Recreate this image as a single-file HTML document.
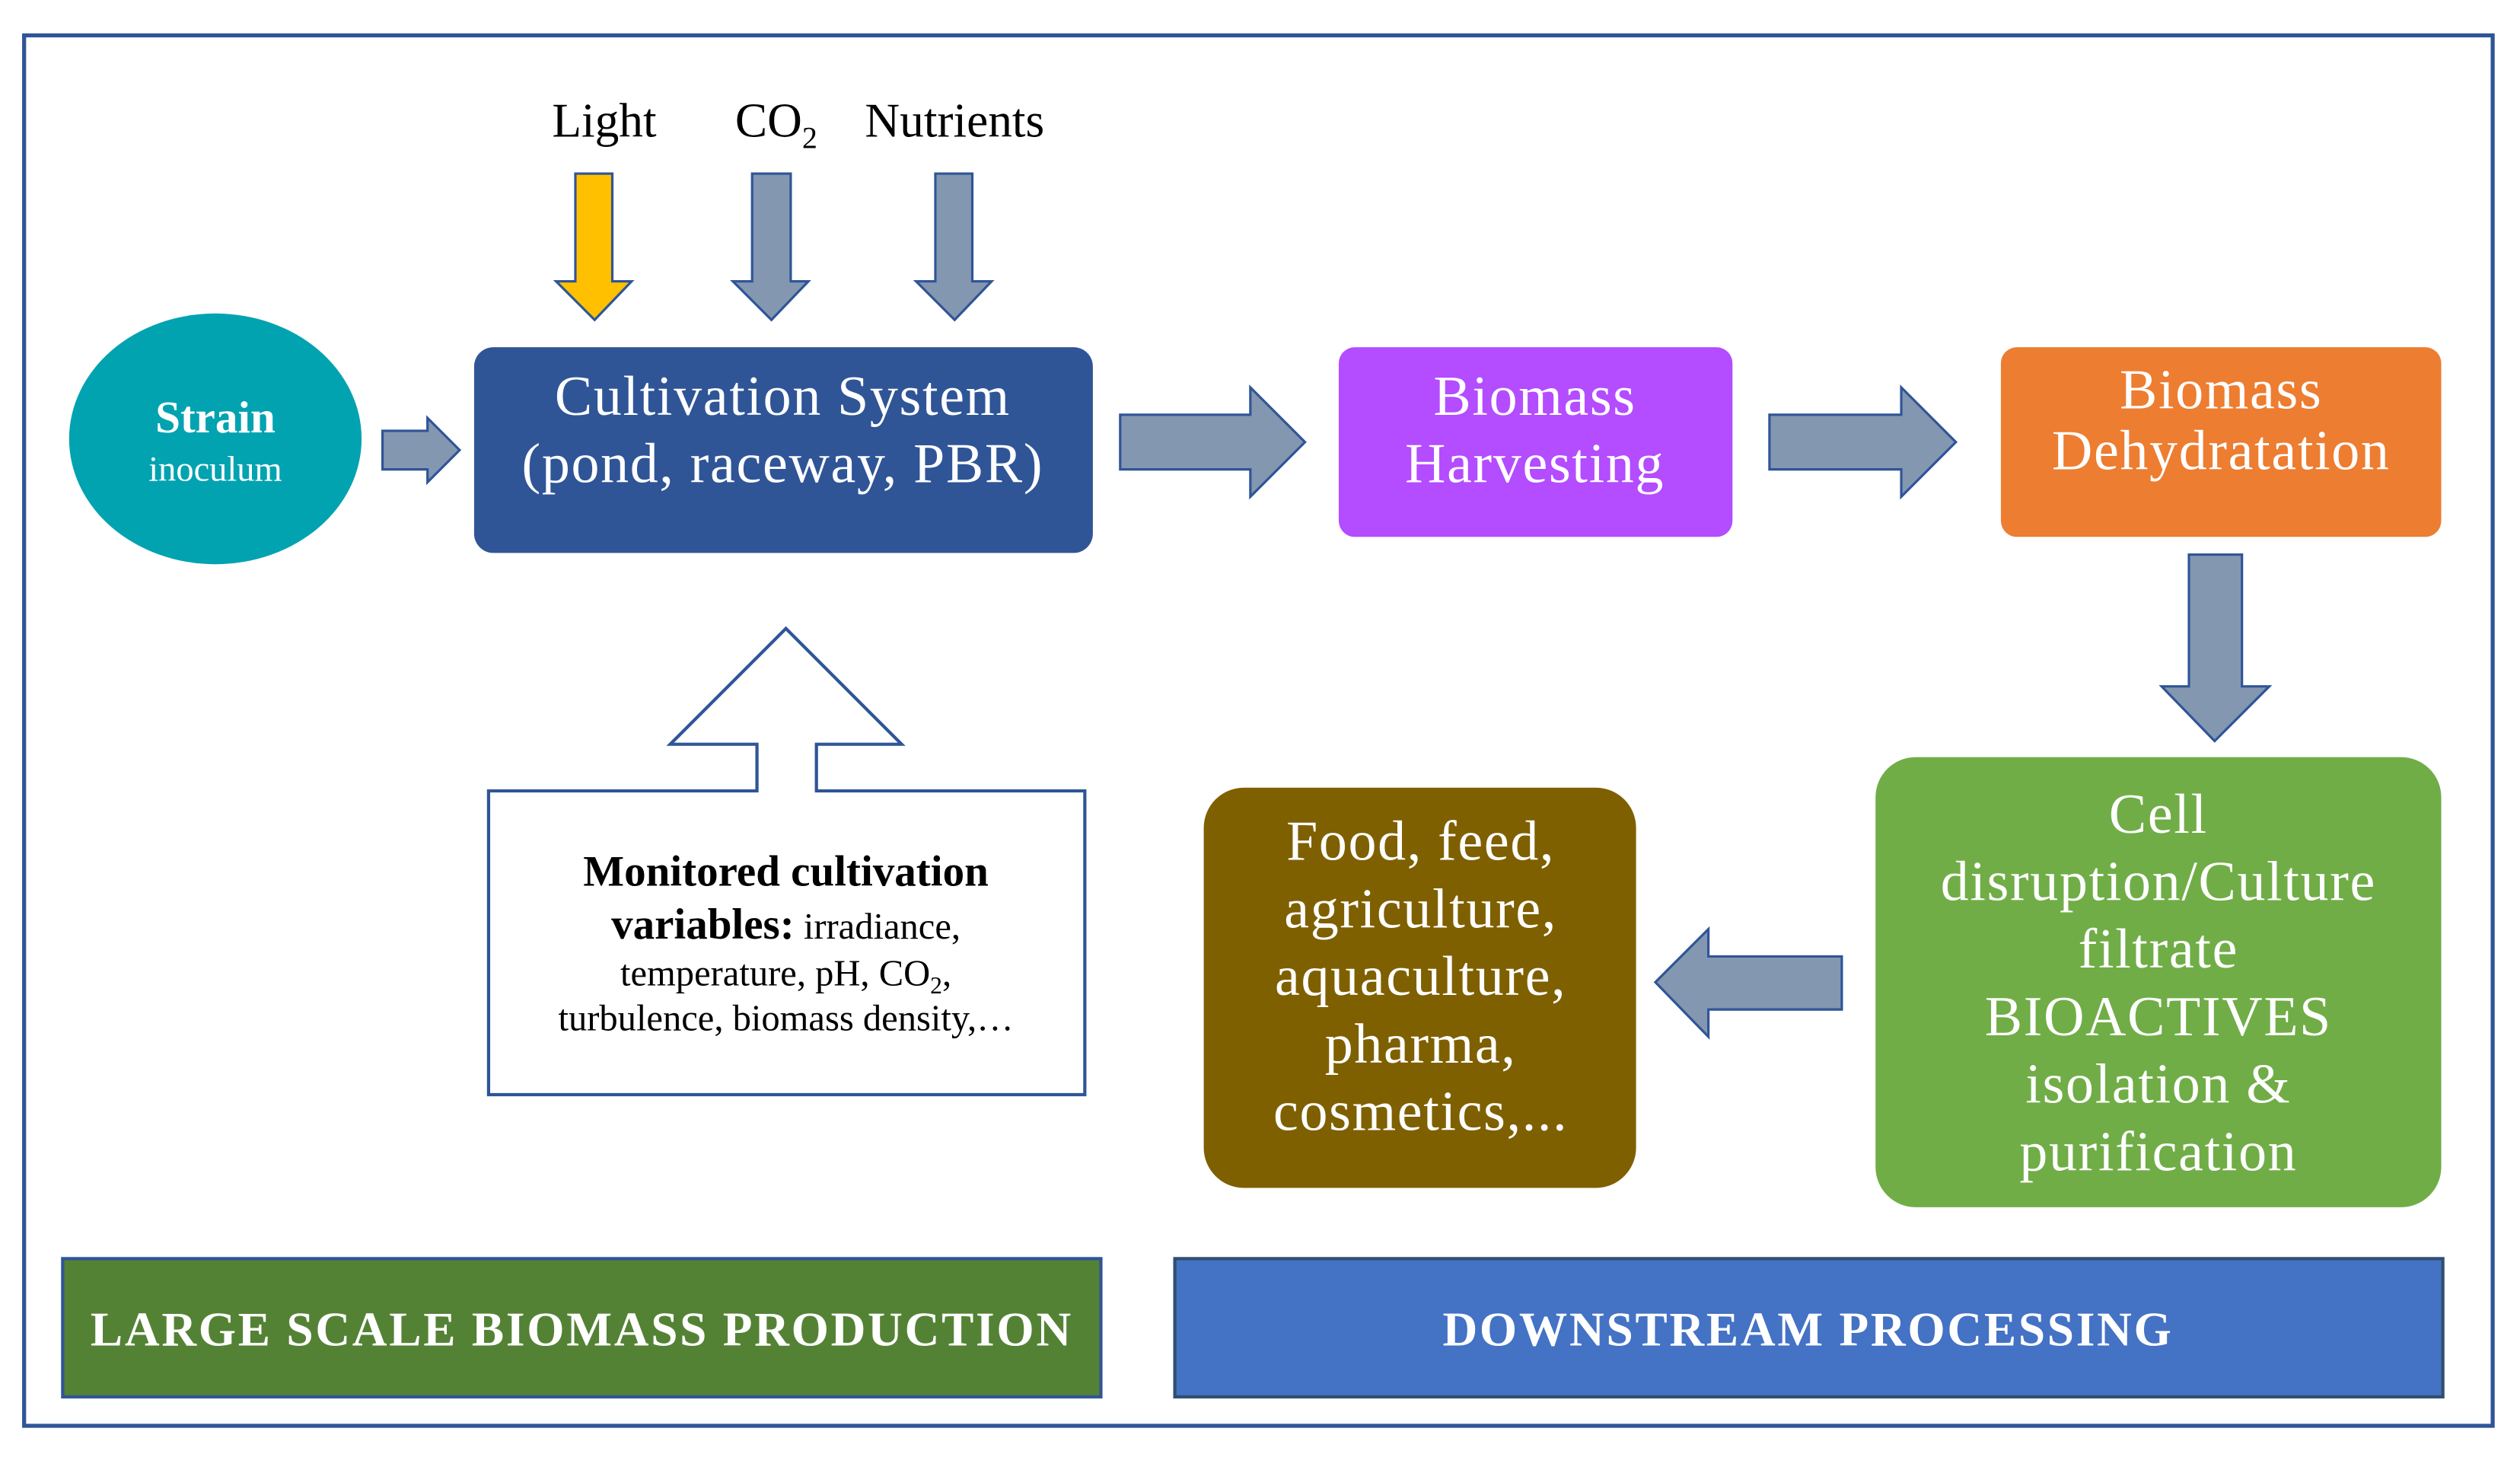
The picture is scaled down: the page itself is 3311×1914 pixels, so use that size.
<!DOCTYPE html>
<html><head><meta charset="utf-8"><style>html,body{margin:0;padding:0;background:#fff}svg{display:block}</style></head>
<body>
<svg width="3311" height="1914" viewBox="0 0 1568 906.4" xmlns="http://www.w3.org/2000/svg" font-family="'Liberation Serif', serif">
<rect x="0" y="0" width="1568" height="906.4" fill="#fff"/>
<rect x="15" y="22" width="1536" height="865" fill="none" stroke="#2F5597" stroke-width="2.5"/>

<ellipse cx="134" cy="273" rx="91" ry="78" fill="#02A3B1"/>
<text x="134" y="269" font-size="28" font-weight="bold" fill="#fff" text-anchor="middle">Strain</text>
<text x="134" y="299" font-size="22" fill="#fff" text-anchor="middle">inoculum</text>

<g fill="#8497B0" stroke="#2F5597" stroke-width="1.5">
<path d="M238,268 L266,268 L266,260 L286,280 L266,300 L266,292 L238,292 Z"/>
<path d="M468,108 L492,108 L492,175 L503,175 L480,199 L456,175 L468,175 Z"/>
<path d="M582,108 L605,108 L605,175 L617,175 L594,199 L570,175 L582,175 Z"/>
<path d="M697,258 L778,258 L778,241 L812,275 L778,309 L778,292 L697,292 Z"/>
<path d="M1101,258 L1183,258 L1183,241 L1217,275 L1183,309 L1183,292 L1101,292 Z"/>
<path d="M1362,345 L1395,345 L1395,427 L1412,427 L1378,461 L1345,427 L1362,427 Z"/>
<path d="M1146,595 L1063,595 L1063,578 L1030,611 L1063,645 L1063,628 L1146,628 Z"/>
</g>
<path d="M358,108 L381,108 L381,175 L393,175 L370,199 L346,175 L358,175 Z" fill="#FFC000" stroke="#2F5597" stroke-width="1.5"/>

<text x="376" y="85" font-size="30" text-anchor="middle">Light</text>
<text x="483" y="85" font-size="30" text-anchor="middle">CO<tspan font-size="19" dy="7">2</tspan></text>
<text x="594" y="85" font-size="30" text-anchor="middle">Nutrients</text>

<rect x="295" y="216" width="385" height="128" rx="12" fill="#2F5597"/>
<g font-size="35" fill="#fff" text-anchor="middle" letter-spacing="0.8">
<text x="487" y="258">Cultivation System</text>
<text x="487" y="300">(pond, raceway, PBR)</text>
</g>

<rect x="833" y="216" width="245" height="118" rx="10" fill="#B44CFF"/>
<g font-size="35" fill="#fff" text-anchor="middle" letter-spacing="0.8">
<text x="955" y="258">Biomass</text>
<text x="955" y="300">Harvesting</text>
</g>

<rect x="1245" y="216" width="274" height="118" rx="10" fill="#ED7D31"/>
<g font-size="35" fill="#fff" text-anchor="middle" letter-spacing="0.8">
<text x="1382" y="254">Biomass</text>
<text x="1382" y="292">Dehydratation</text>
</g>

<rect x="1167" y="471" width="352" height="280" rx="25" fill="#70AD47"/>
<g font-size="35" fill="#fff" text-anchor="middle" letter-spacing="0.8">
<text x="1343" y="518">Cell</text>
<text x="1343" y="560">disruption/Culture</text>
<text x="1343" y="602">filtrate</text>
<text x="1343" y="644">BIOACTIVES</text>
<text x="1343" y="686">isolation &amp;</text>
<text x="1343" y="728">purification</text>
</g>

<rect x="749" y="490" width="269" height="249" rx="25" fill="#7F6000"/>
<g font-size="35" fill="#fff" text-anchor="middle" letter-spacing="0.8">
<text x="884" y="535">Food, feed,</text>
<text x="884" y="577">agriculture,</text>
<text x="884" y="619">aquaculture,</text>
<text x="884" y="661">pharma,</text>
<text x="884" y="703">cosmetics,...</text>
</g>

<path d="M304,492 L471,492 L471,463 L417,463 L489,391 L561,463 L508,463 L508,492 L675,492 L675,681 L304,681 Z" fill="#fff" stroke="#2F5597" stroke-width="2"/>
<text x="489" y="551" font-size="27" font-weight="bold" text-anchor="middle">Monitored cultivation</text>
<text x="489" y="584" text-anchor="middle"><tspan font-size="27" font-weight="bold">variables:</tspan><tspan font-size="23"> irradiance,</tspan></text>
<text x="489" y="613" font-size="23" text-anchor="middle">temperature, pH, CO<tspan font-size="15" dy="5">2</tspan><tspan dy="-5">,</tspan></text>
<text x="489" y="641" font-size="23" text-anchor="middle">turbulence, biomass density,…</text>

<rect x="39" y="783" width="646" height="86" fill="#548235" stroke="#2F5597" stroke-width="2"/>
<text x="362" y="837" font-size="30" font-weight="bold" fill="#fff" text-anchor="middle" letter-spacing="1.3">LARGE SCALE BIOMASS PRODUCTION</text>
<rect x="731" y="783" width="789" height="86" fill="#4472C4" stroke="#2F4F6F" stroke-width="2"/>
<text x="1125" y="837" font-size="30" font-weight="bold" fill="#fff" text-anchor="middle" letter-spacing="1.3">DOWNSTREAM PROCESSING</text>
</svg>
</body></html>
